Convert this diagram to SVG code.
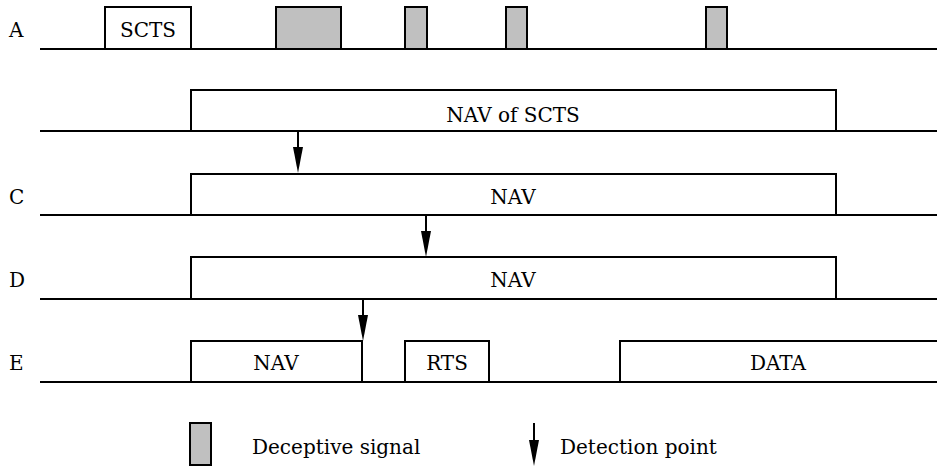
<svg xmlns="http://www.w3.org/2000/svg" width="937" height="468" viewBox="0 0 937 468">
  <style>
    .base { stroke: #000; stroke-width: 2; fill: none; }
    .frame { stroke: #000; stroke-width: 2; fill: #fff; }
    .fake { stroke: #000; stroke-width: 2; fill: #c0c0c0; }
    .mid { text-anchor: middle; }
    .arr { stroke: #000; stroke-width: 2; fill: none; }
    .head { fill: #000; stroke: none; }
  </style>
  <rect width="937" height="468" fill="#fff"/>

  <g font-family="'DejaVu Serif', 'Liberation Serif', serif" font-size="20" fill="#000">
    <!-- row labels -->
    <g id="row-labels">
      <text x="9" y="37">A</text>
      <text x="9" y="204">C</text>
      <text x="9" y="287">D</text>
      <text x="9" y="370">E</text>
    </g>

    <!-- row A: SCTS followed by deceptive signals -->
    <g id="row-a">
      <rect class="frame" x="105" y="7" width="86" height="42"/>
      <text class="mid" x="148" y="37">SCTS</text>
      <rect class="fake" x="276" y="7" width="65" height="42"/>
      <rect class="fake" x="405" y="7" width="22" height="42"/>
      <rect class="fake" x="506" y="7" width="21" height="42"/>
      <rect class="fake" x="706" y="7" width="21" height="42"/>
      <line class="base" x1="40" y1="49" x2="937" y2="49"/>
    </g>

    <!-- row B: NAV set by SCTS -->
    <g id="row-b">
      <rect class="frame" x="191" y="90" width="645" height="41"/>
      <text class="mid" x="513" y="122">NAV of SCTS</text>
      <line class="base" x1="40" y1="131" x2="937" y2="131"/>
    </g>

    <!-- row C -->
    <g id="row-c">
      <rect class="frame" x="191" y="174" width="645" height="41"/>
      <text class="mid" x="513" y="204">NAV</text>
      <line class="base" x1="40" y1="215" x2="937" y2="215"/>
    </g>

    <!-- row D -->
    <g id="row-d">
      <rect class="frame" x="191" y="257" width="645" height="42"/>
      <text class="mid" x="513" y="287">NAV</text>
      <line class="base" x1="40" y1="299" x2="937" y2="299"/>
    </g>

    <!-- row E -->
    <g id="row-e">
      <rect class="frame" x="191" y="341" width="171" height="41"/>
      <text class="mid" x="276" y="370">NAV</text>
      <rect class="frame" x="405" y="341" width="84" height="41"/>
      <text class="mid" x="447" y="370">RTS</text>
      <rect class="frame" x="620" y="341" width="330" height="41"/>
      <text class="mid" x="778" y="370">DATA</text>
      <line class="base" x1="40" y1="382" x2="937" y2="382"/>
    </g>

    <!-- detection arrows -->
    <g id="connectors">
      <line class="arr" x1="298" y1="131" x2="298" y2="150"/>
      <polygon class="head" points="293,147 303,147 298,173"/>
      <line class="arr" x1="426" y1="215" x2="426" y2="234"/>
      <polygon class="head" points="421,231 431,231 426,257"/>
      <line class="arr" x1="363" y1="299" x2="363" y2="318"/>
      <polygon class="head" points="358,315 368,315 363,341"/>
    </g>

    <!-- legend -->
    <g id="legend">
      <rect class="fake" x="190" y="423" width="21" height="42"/>
      <text x="252" y="454">Deceptive signal</text>
      <line class="arr" x1="534" y1="423" x2="534" y2="442"/>
      <polygon class="head" points="529,440 539,440 534,466"/>
      <text x="560" y="454">Detection point</text>
    </g>
  </g>
</svg>
